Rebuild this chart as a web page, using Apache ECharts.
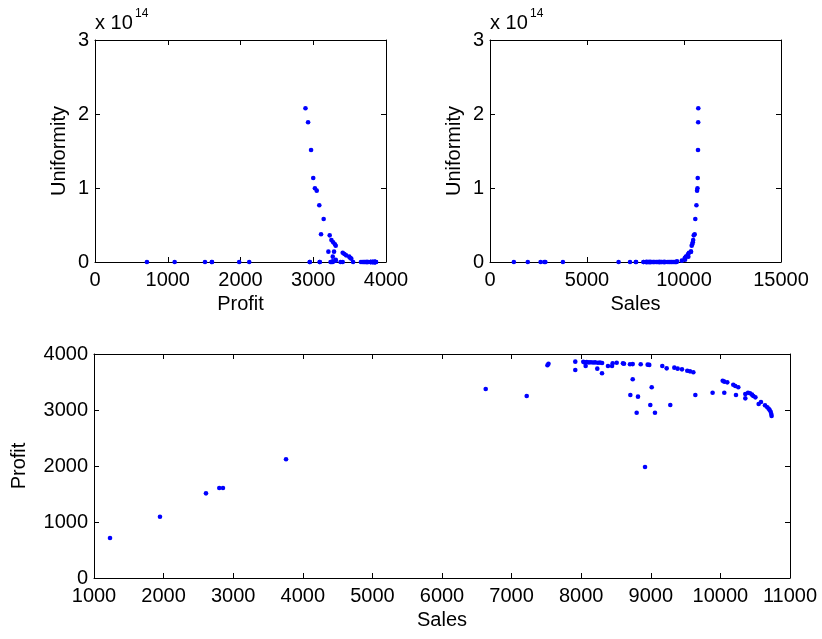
<!DOCTYPE html>
<html><head><meta charset="utf-8">
<script src="https://cdn.jsdelivr.net/npm/echarts@6/dist/echarts.min.js"></script>
<style>html,body{margin:0;padding:0;background:#fff}#c{width:822px;height:639px}</style>
</head><body><div id="c"></div>
<script>
const sales = [1230,1948,2609,2800,2853,3759,6628,7217,7515,7530,7915,7915,8030,8050,8080,8110,8140,8170,8200,8240,8270,8300,8064,8231,8299,8385,8443,8452,8510,8600,8615,8701,8740,8740,8706,8797,8816,8917,8855,8955,8978,9013,8993,9060,9165,9228,9280,9338,9386,9448,9524,9563,9611,9640,9888,10033,10056,10099,10056,10185,10214,10257,10224,10358,10397,10425,10454,10473,10503,10358,10550,10583,10641,10674,10694,10708,10722,10731,10736];
const profit = [714,1095,1512,1607,1607,2120,3375,3250,3800,3825,3863,3714,3860,3850,3855,3850,3852,3848,3850,3845,3846,3840,3786,3738,3655,3786,3786,3833,3845,3833,3825,3816,3820,3548,3268,2952,3238,1982,3816,3810,3805,3405,3089,2952,3786,3744,3089,3756,3738,3726,3702,3690,3673,3268,3309,3523,3506,3494,3309,3452,3428,3405,3268,3286,3309,3298,3274,3250,3226,3208,3107,3143,3083,3048,3023,3000,2970,2929,2893];
// uniformity in units of 1e14
const uniformity = [0,0,0,0,0,0,0,0,0,0,0,0,0,0,0,0,0,0,0,0,0,0,0,0,0,0,0,0,0,0,0,0,0,0,0,0,0,0,0,0,0,0,0,0,0,0,0,0,0,0,0,0,0,0.008,0.018,0.045,0.058,0.072,0.03,0.09,0.108,0.126,0.072,0.14,0.22,0.239,0.266,0.297,0.36,0.14,0.374,0.581,0.766,0.964,0.996,1.135,1.514,1.888,2.077];

const FONT = 'Liberation Sans, Arial, Helvetica, sans-serif';
const FS = 20;
const lbl = {color:'#000', fontSize:FS, fontFamily:FONT, formatter:v=>String(v)};
const nameStyle = {color:'#000',fontSize:FS,fontFamily:FONT};
function mkX(grid, min, max, interval, name, gap){
  return [{
    type:'value', gridIndex:grid, min, max, interval, position:'bottom',
    name, nameLocation:'middle', nameGap:gap, nameTextStyle:nameStyle,
    axisLine:{show:true,onZero:false,lineStyle:{color:'#000',width:1}},
    axisTick:{show:true,inside:true,length:5,lineStyle:{color:'#000'}},
    axisLabel:Object.assign({margin:8},lbl), splitLine:{show:false}
  },{
    type:'value', gridIndex:grid, min, max, interval, position:'top',
    axisLine:{show:true,onZero:false,lineStyle:{color:'#000',width:1}},
    axisTick:{show:true,inside:true,length:5,lineStyle:{color:'#000'}},
    axisLabel:{show:false}, splitLine:{show:false}
  }];
}
function mkY(grid, min, max, interval, name, gap){
  return [{
    type:'value', gridIndex:grid, min, max, interval, position:'left',
    name, nameLocation:'middle', nameGap:gap, nameTextStyle:nameStyle,
    axisLine:{show:true,onZero:false,lineStyle:{color:'#000',width:1}},
    axisTick:{show:true,inside:true,length:5,lineStyle:{color:'#000'}},
    axisLabel:Object.assign({margin:6},lbl), splitLine:{show:false}
  },{
    type:'value', gridIndex:grid, min, max, interval, position:'right',
    axisLine:{show:true,onZero:false,lineStyle:{color:'#000',width:1}},
    axisTick:{show:true,inside:true,length:5,lineStyle:{color:'#000'}},
    axisLabel:{show:false}, splitLine:{show:false}
  }];
}
const d1 = profit.map((p,i)=>[p, uniformity[i]]);
const d2 = sales.map((s,i)=>[s, uniformity[i]]);
const d3 = sales.map((s,i)=>[s, profit[i]]);
const sc = (xi, yi, data)=>({type:'scatter', xAxisIndex:xi, yAxisIndex:yi, data, symbolSize:4.6, itemStyle:{color:'#0000ff', opacity:1}, silent:true, animation:false});

const chart = echarts.init(document.getElementById('c'), null, {renderer:'canvas'});
chart.setOption({
  backgroundColor:'#fff', animation:false,
  grid:[
    {left:95, top:40, width:291, height:222},
    {left:490, top:40, width:291, height:222},
    {left:94, top:354, width:696, height:224}
  ],
  xAxis:[].concat(mkX(0,0,4000,1000,'Profit',32), mkX(1,0,15000,5000,'Sales',32), mkX(2,1000,11000,1000,'Sales',32)),
  yAxis:[].concat(mkY(0,0,3,1,'Uniformity',26), mkY(1,0,3,1,'Uniformity',26), mkY(2,0,4000,1000,'Profit',65)),
  series:[sc(0,0,d1), sc(2,2,d2), sc(4,4,d3)],
  graphic:[
    {type:'text', left:95, top:13, style:{text:'x 10', font:FS+'px '+FONT, fill:'#000'}},
    {type:'text', left:135, top:8, style:{text:'14', font:'12px '+FONT, fill:'#000'}},
    {type:'text', left:490, top:13, style:{text:'x 10', font:FS+'px '+FONT, fill:'#000'}},
    {type:'text', left:530, top:8, style:{text:'14', font:'12px '+FONT, fill:'#000'}}
  ]
});
</script></body></html>
